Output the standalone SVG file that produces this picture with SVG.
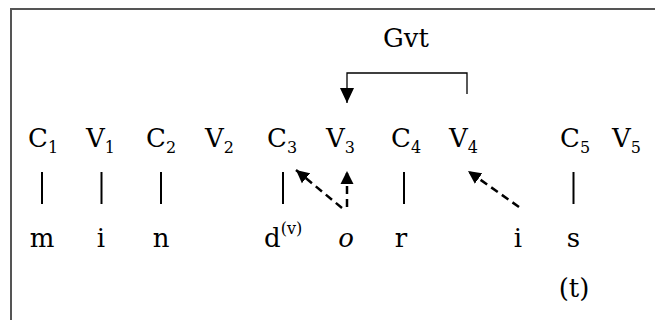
<svg xmlns="http://www.w3.org/2000/svg" width="655" height="320" viewBox="0 0 655 320">
  <style>
    .t { font-family: "DejaVu Serif", "Liberation Serif", serif; font-size: 26px; fill: #000; }
    .sub { font-size: 16px; }
    .bar { stroke: #000; stroke-width: 2; }
    .br { fill: none; stroke: #000; stroke-width: 1.3; }
    .dash { fill: none; stroke: #000; stroke-width: 2.5; stroke-dasharray: 8 5; }
  </style>
  <defs>
    <marker id="head" markerUnits="userSpaceOnUse" markerWidth="16" markerHeight="14" refX="15" refY="7" orient="auto">
      <path d="M0,0 L15,7 L0,14 Z" fill="#000"/>
    </marker>
    <marker id="headS" markerUnits="userSpaceOnUse" markerWidth="14" markerHeight="14" refX="13" refY="7" orient="auto">
      <path d="M0,0.5 L13,7 L0,13.5 Z" fill="#000"/>
    </marker>
  </defs>
  <rect width="655" height="320" fill="#fff"/>
  <!-- frame: open on the right and bottom -->
  <path d="M11,330 L11,9 L670,9" fill="none" stroke="#555" stroke-width="2"/>

  <g id="gvt"><text class="t" x="406" y="47" text-anchor="middle">Gvt</text></g>

  <!-- skeleton positions -->
  <g id="C1"><text class="t" x="28" y="147">C<tspan class="sub" dy="6">1</tspan></text></g>
  <g id="V1"><text class="t" x="86" y="147">V<tspan class="sub" dy="6">1</tspan></text></g>
  <g id="C2"><text class="t" x="146" y="147">C<tspan class="sub" dy="6">2</tspan></text></g>
  <g id="V2"><text class="t" x="205" y="147">V<tspan class="sub" dy="6">2</tspan></text></g>
  <g id="C3"><text class="t" x="267" y="147">C<tspan class="sub" dy="6">3</tspan></text></g>
  <g id="V3"><text class="t" x="326" y="147">V<tspan class="sub" dy="6">3</tspan></text></g>
  <g id="C4"><text class="t" x="391" y="147">C<tspan class="sub" dy="6">4</tspan></text></g>
  <g id="V4"><text class="t" x="449" y="147">V<tspan class="sub" dy="6">4</tspan></text></g>
  <g id="C5"><text class="t" x="560" y="147">C<tspan class="sub" dy="6">5</tspan></text></g>
  <g id="V5"><text class="t" x="612" y="147">V<tspan class="sub" dy="6">5</tspan></text></g>

  <!-- segments -->
  <g id="seg-m"><text class="t" x="42" y="247" text-anchor="middle">m</text></g>
  <g id="seg-i1"><text class="t" x="101" y="247" text-anchor="middle">i</text></g>
  <g id="seg-n"><text class="t" x="161" y="247" text-anchor="middle">n</text></g>
  <g id="seg-d"><text class="t" x="264" y="247">d<tspan class="sub" dy="-13">(v)</tspan></text></g>
  <g id="seg-o"><text class="t" x="346" y="247" text-anchor="middle" font-style="italic">o</text></g>
  <g id="seg-r"><text class="t" x="401" y="247" text-anchor="middle">r</text></g>
  <g id="seg-i2"><text class="t" x="518" y="247" text-anchor="middle">i</text></g>
  <g id="seg-s"><text class="t" x="573.5" y="247" text-anchor="middle">s</text></g>
  <g id="seg-t"><text class="t" x="574" y="297" text-anchor="middle">(t)</text></g>

  <g id="connectors">
    <!-- association lines -->
    <line class="bar" x1="42" y1="172" x2="42" y2="204"/>
    <line class="bar" x1="101.5" y1="172" x2="101.5" y2="204"/>
    <line class="bar" x1="161" y1="172" x2="161" y2="204"/>
    <line class="bar" x1="283" y1="172" x2="283" y2="204"/>
    <line class="bar" x1="404" y1="172" x2="404" y2="204"/>
    <line class="bar" x1="573.5" y1="172" x2="573.5" y2="204"/>
    <!-- government bracket V4 to V3 -->
    <polyline class="br" points="467,94 467,73 347,73 347,103" marker-end="url(#head)"/>
    <!-- spreading arrows -->
    <line class="dash" x1="342" y1="208" x2="296" y2="170" marker-end="url(#headS)"/>
    <line class="dash" x1="347" y1="207" x2="347" y2="171" marker-end="url(#headS)"/>
    <line class="dash" x1="519" y1="207" x2="468" y2="171" marker-end="url(#headS)"/>
  </g>
</svg>
